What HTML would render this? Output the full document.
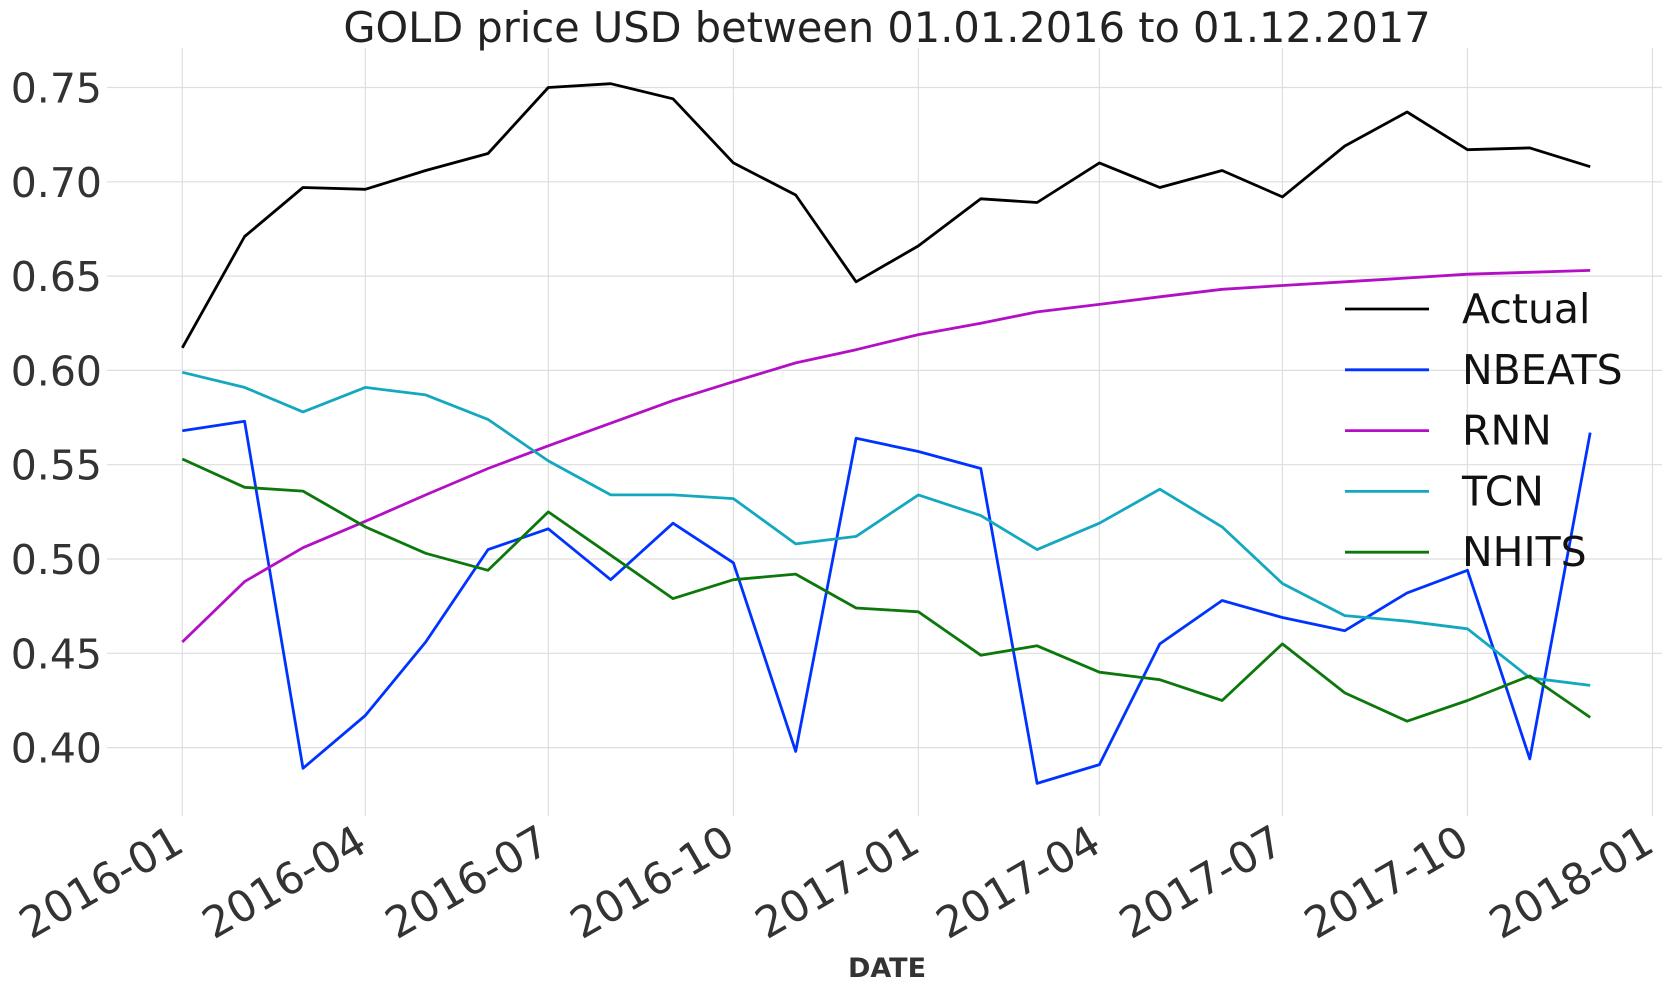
<!DOCTYPE html>
<html><head><meta charset="utf-8"><style>
html,body{margin:0;padding:0;background:#fff;}
svg{display:block;font-family:"DejaVu Sans","Liberation Sans",sans-serif;}
</style></head><body>
<svg id="chart" width="1672" height="994" viewBox="0 0 1672 994" xmlns="http://www.w3.org/2000/svg">
<text x="887" y="42" font-size="41.5" text-anchor="middle" fill="#222">GOLD price USD between 01.01.2016 to 01.12.2017</text>
<g id="grid"></g>
<g id="ticks"></g>
<g id="series"></g>
<text x="887" y="977" font-size="27" font-weight="bold" text-anchor="middle" fill="#333">DATE</text>
<g id="legend"></g>
</svg>
<script>
const yTicks = [0.40, 0.45, 0.50, 0.55, 0.60, 0.65, 0.70, 0.75];
const xTickLabels = ["2016-01","2016-04","2016-07","2016-10","2017-01","2017-04","2017-07","2017-10","2018-01"];
const seriesNames = ["Actual","NBEATS","RNN","TCN","NHITS"];
const seriesColors = ["#000000","#0033ff","#b30fc4","#14a8c0","#0c780c"];
const actual = [0.612,0.671,0.697,0.696,0.706,0.715,0.750,0.752,0.744,0.710,0.693,0.647,0.666,0.691,0.689,0.710,0.697,0.706,0.692,0.719,0.737,0.717,0.718,0.708];
const nbeats = [0.568,0.573,0.389,0.417,0.456,0.505,0.516,0.489,0.519,0.498,0.398,0.564,0.557,0.548,0.381,0.391,0.455,0.478,0.469,0.462,0.482,0.494,0.394,0.567];
const rnn = [0.456,0.488,0.506,0.520,0.534,0.548,0.560,0.572,0.584,0.594,0.604,0.611,0.619,0.625,0.631,0.635,0.639,0.643,0.645,0.647,0.649,0.651,0.652,0.653];
const tcn = [0.599,0.591,0.578,0.591,0.587,0.574,0.552,0.534,0.534,0.532,0.508,0.512,0.534,0.523,0.505,0.519,0.537,0.517,0.487,0.470,0.467,0.463,0.437,0.433];
const nhits = [0.553,0.538,0.536,0.517,0.503,0.494,0.525,0.502,0.479,0.489,0.492,0.474,0.472,0.449,0.454,0.440,0.436,0.425,0.455,0.429,0.414,0.425,0.438,0.416];

const NS="http://www.w3.org/2000/svg";
const X0=182.3, X1=1652.5, T0=Date.UTC(2016,0,1), T1=Date.UTC(2018,0,1);
function xScale(t){return X0+(t-T0)/(T1-T0)*(X1-X0);}
function yScale(v){return 747.6-(v-0.40)/0.35*(747.6-87.5);}
function monthDate(i){return Date.UTC(2016,i,1);}
function mk(tag,attrs,parent){const e=document.createElementNS(NS,tag);for(const k in attrs)e.setAttribute(k,attrs[k]);parent.appendChild(e);return e;}
const grid=document.getElementById('grid'), ticks=document.getElementById('ticks'), series=document.getElementById('series'), legend=document.getElementById('legend');

yTicks.forEach(v=>{
  const y=yScale(v);
  const l=mk('line',{x1:107,x2:1662,y1:y,y2:y,stroke:'#dedede','stroke-width':1.2},grid);
  
  
  const t=mk('text',{x:102,y:y+15,'font-size':41,'text-anchor':'end',fill:'#333'},ticks);
  t.textContent=v.toFixed(2);
  
  
});
xTickLabels.forEach(s=>{
  const p=s.split('-');
  const x=xScale(Date.UTC(+p[0],+p[1]-1,1));
  const l=mk('line',{x1:x,x2:x,y1:48,y2:816,stroke:'#dedede','stroke-width':1.2},grid);
  
  
  const t=mk('text',{x:x+4,y:850,'font-size':43,'text-anchor':'end',fill:'#333',transform:`rotate(-30 ${x+4} 850)`},ticks);
  t.textContent=s;
  
  
});
const allSeries=[actual,nbeats,rnn,tcn,nhits];
allSeries.forEach((arr,k)=>{
  const pts=arr.map((v,i)=>xScale(monthDate(i)).toFixed(1)+','+yScale(v).toFixed(1)).join(' ');
  const pl=mk('polyline',{points:pts,fill:'none',stroke:seriesColors[k],'stroke-width':2.8,'stroke-linejoin':'round'},series);
  
  
});
seriesNames.forEach((n,k)=>{
  const y=309+k*60.8;
  const g=mk('g',{},legend);
  
  
  mk('line',{x1:1345,x2:1429,y1:y,y2:y,stroke:seriesColors[k],'stroke-width':2.8},g);
  const t=mk('text',{x:1462,y:y+14,'font-size':41,fill:'#111'},g);
  t.textContent=n;
});
</script>
</body></html>
